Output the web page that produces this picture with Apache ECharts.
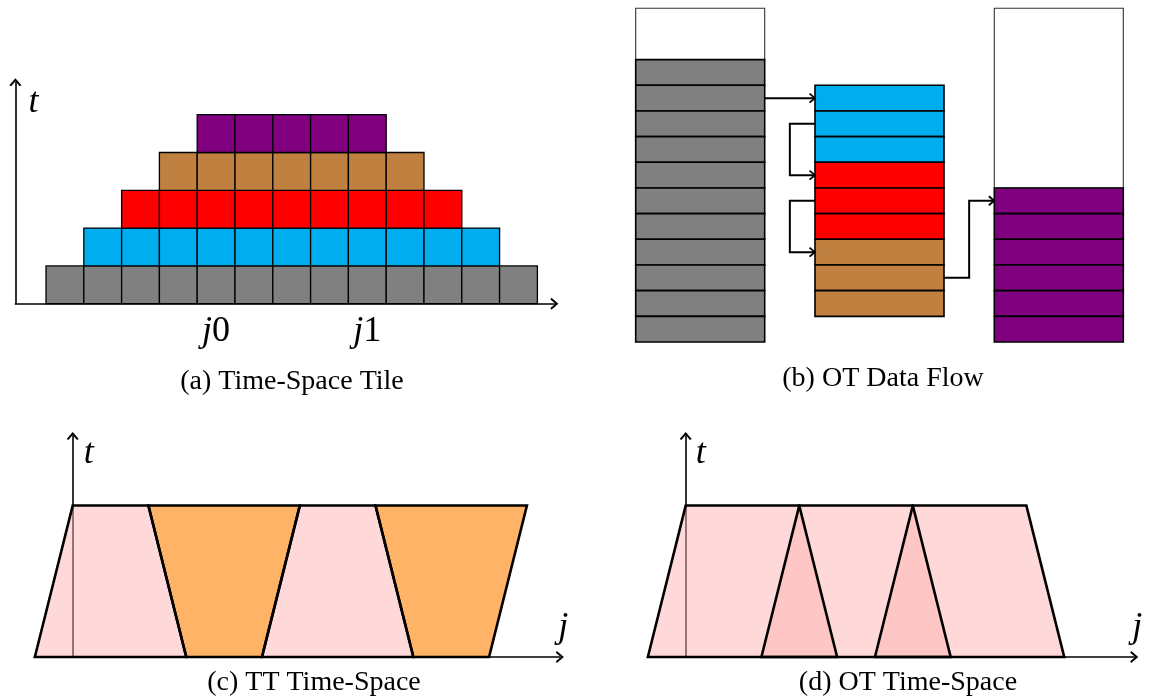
<!DOCTYPE html>
<html><head><meta charset="utf-8">
<script src="https://cdn.jsdelivr.net/npm/echarts@6/dist/echarts.min.js"></script>
<style>html,body{margin:0;padding:0;background:#fff}#c{width:1149px;height:698px}</style>
</head><body><div id="c"></div>
<script>
// ---------- DATA ----------
// (a) Time-Space Tile : one row of unit cells per time step
const tileRowStart = [0, 1, 2, 3, 4];
const tileRowCount = [13, 11, 9, 7, 5];
const tileRowColor = ['gray', 'cyan', 'red', 'brown', 'purple'];
const tileLabelValues = [4.5, 8.5];
const tileLabelNames = ['j0', 'j1'];

// (b) OT Data Flow : column start positions and blocks [column, firstRow, rows, cells, colour]
const flowColumnX = [0, 1.39, 2.78];
const flowBlocks = [
  [0, 0, 2, 1, 'white'], [0, 2, 11, 11, 'gray'],
  [1, 3, 3, 3, 'cyan'], [1, 6, 3, 3, 'red'], [1, 9, 3, 3, 'brown'],
  [2, 0, 7, 1, 'white'], [2, 7, 6, 6, 'purple']
];
// arrows as polylines [column-unit x, row]
const flowArrows = [
  [[1, 3.5], [1.39, 3.5]],
  [[1.39, 4.5], [1.195, 4.5], [1.195, 6.5], [1.39, 6.5]],
  [[1.39, 7.5], [1.195, 7.5], [1.195, 9.5], [1.39, 9.5]],
  [[2.39, 10.5], [2.585, 10.5], [2.585, 7.5], [2.78, 7.5]]
];

// (c) TT Time-Space : trapezoids, top/bottom spans in j-units
const tsHeight = 4;
const ttTop = [[0, 2], [2, 6], [6, 8], [8, 12]];
const ttBottom = [[-1, 3], [3, 5], [5, 9], [9, 11]];
const ttKind = ['pink', 'orange', 'pink', 'orange'];

// (d) OT Time-Space : overlapping trapezoids
const otTop = [[0, 3], [3, 6], [6, 9]];
const otBottom = [[-1, 4], [2, 7], [5, 10]];
const otKind = ['pink', 'pink', 'pink'];

const captions = ['(a) Time-Space Tile', '(b) OT Data Flow', '(c) TT Time-Space', '(d) OT Time-Space'];

// ---------- STYLE ----------
const palette = {
  gray: '#808080', cyan: '#00AEEF', red: '#FF0000', brown: '#BF8040', purple: '#800080',
  white: '#FFFFFF', pink: 'rgba(255,179,179,0.5)', orange: '#FFB366'
};
const SERIF = '"Liberation Serif", "DejaVu Serif", serif';
const arrowPath = 'path://M0,7 L6,0 L12,7 L10.3,8 L6,3 L1.7,8 Z';

// ---------- BUILD ----------
const tileCells = [];
tileRowStart.forEach((s, r) => {
  for (let k = 0; k < tileRowCount[r]; k++) tileCells.push([s + k, r, r]);
});

function axisLineArrow() {
  return { show: true, onZero: true, symbol: ['none', arrowPath], symbolSize: [12, 8],
    lineStyle: { color: '#000', width: 1.6 } };
}
function baseX(gi, min, max) {
  return { type: 'value', gridIndex: gi, min: min, max: max,
    splitLine: { show: false }, axisTick: { show: false }, axisLabel: { show: false },
    axisLine: axisLineArrow() };
}
function baseY(gi, min, max) {
  return { type: 'value', gridIndex: gi, min: min, max: max,
    splitLine: { show: false }, axisTick: { show: false }, axisLabel: { show: false },
    axisLine: axisLineArrow() };
}
const mathName = { fontFamily: SERIF, fontStyle: 'italic', fontSize: 36, color: '#000' };

const xA = baseX(0, -0.81, 13.45);
xA.axisLabel = {
  show: true, customValues: tileLabelValues, margin: 10,
  formatter: function (v) {
    const i = tileLabelValues.indexOf(v);
    const s = i >= 0 ? tileLabelNames[i] : '';
    return '{i|' + s.charAt(0) + '}{n|' + s.slice(1) + '}';
  },
  rich: {
    i: { fontFamily: SERIF, fontStyle: 'italic', fontSize: 36, color: '#000' },
    n: { fontFamily: SERIF, fontSize: 36, color: '#000' }
  }
};
const yA = baseY(0, 0, 5.86);
yA.axisLine.onZero = false;
yA.name = 't'; yA.nameLocation = 'end'; yA.nameGap = -20;
yA.nameTextStyle = Object.assign({ align: 'left', verticalAlign: 'middle', padding: [0, 0, 0, 13] }, mathName);

const xB = { type: 'value', gridIndex: 1, min: 0, max: 3.78, show: false };
const yB = { type: 'value', gridIndex: 1, min: 0, max: 13, inverse: true, show: false };

const xC = baseX(2, -1, 12.87);
xC.name = 'j'; xC.nameLocation = 'end'; xC.nameGap = 3.5;
xC.nameTextStyle = Object.assign({ align: 'center', verticalAlign: 'bottom', padding: [0, 0, 11, 0] }, mathName);
const yC = baseY(2, 0, 5.84);
yC.name = 't'; yC.nameLocation = 'end'; yC.nameGap = -18;
yC.nameTextStyle = Object.assign({ align: 'left', verticalAlign: 'middle', padding: [0, 0, 0, 11] }, mathName);

const xD = baseX(3, -1, 11.85);
xD.name = 'j'; xD.nameLocation = 'end'; xD.nameGap = 3;
xD.nameTextStyle = Object.assign({ align: 'center', verticalAlign: 'bottom', padding: [0, 0, 11, 0] }, mathName);
const yD = baseY(3, 0, 5.84);
yD.name = 't'; yD.nameLocation = 'end'; yD.nameGap = -18;
yD.nameTextStyle = Object.assign({ align: 'left', verticalAlign: 'middle', padding: [0, 0, 0, 10] }, mathName);

function trapSeries(axisIdx, tops, bottoms, kinds, mode) {
  return {
    type: 'custom', xAxisIndex: axisIdx, yAxisIndex: axisIdx, z: mode === 'fill' ? 2 : 3,
    silent: true, animation: false,
    data: tops.map(function (t) { return [t[0], tsHeight]; }),
    renderItem: function (params, api) {
      const i = params.dataIndex;
      const pts = [
        api.coord([bottoms[i][0], 0]), api.coord([tops[i][0], tsHeight]),
        api.coord([tops[i][1], tsHeight]), api.coord([bottoms[i][1], 0])
      ];
      return {
        type: 'polygon', shape: { points: pts },
        style: mode === 'fill'
          ? { fill: palette[kinds[i]], stroke: null, lineWidth: 0 }
          : { fill: 'none', stroke: '#000', lineWidth: 2.6, lineJoin: 'miter' }
      };
    }
  };
}

const option = {
  animation: false,
  backgroundColor: '#fff',
  title: captions.map(function (c, i) {
    const pos = [[292, 368], [883, 365], [314, 669], [908, 669]][i];
    return { text: c, left: pos[0], top: pos[1], textAlign: 'center', padding: 0,
      textStyle: { fontFamily: SERIF, fontWeight: 'normal', fontSize: 28, color: '#000' } };
  }),
  grid: [
    { left: 15.4, top: 82.2, width: 539, height: 221.5, containLabel: false, outerBoundsMode: 'none' },
    { left: 635.7, top: 8.3, width: 487.6, height: 333.7, containLabel: false, outerBoundsMode: 'none' },
    { left: 34.85, top: 435.9, width: 525.0, height: 221.1, containLabel: false, outerBoundsMode: 'none' },
    { left: 647.85, top: 435.9, width: 486.4, height: 221.1, containLabel: false, outerBoundsMode: 'none' }
  ],
  xAxis: [xA, xB, xC, xD],
  yAxis: [yA, yB, yC, yD],
  series: [
    {
      type: 'custom', xAxisIndex: 0, yAxisIndex: 0, silent: true, animation: false,
      data: tileCells,
      renderItem: function (params, api) {
        const c = tileCells[params.dataIndex];
        const p0 = api.coord([c[0], c[1] + 1]);
        const p1 = api.coord([c[0] + 1, c[1]]);
        return { type: 'rect',
          shape: { x: p0[0], y: p0[1], width: p1[0] - p0[0], height: p1[1] - p0[1] },
          style: { fill: palette[tileRowColor[c[2]]], stroke: '#000', lineWidth: 1.3 } };
      }
    },
    {
      type: 'custom', xAxisIndex: 1, yAxisIndex: 1, silent: true, animation: false,
      data: flowBlocks.map(function (b) { return [flowColumnX[b[0]], b[1]]; }),
      renderItem: function (params, api) {
        const b = flowBlocks[params.dataIndex];
        const h = b[2] / b[3];
        const children = [];
        for (let k = 0; k < b[3]; k++) {
          const p0 = api.coord([flowColumnX[b[0]], b[1] + k * h]);
          const p1 = api.coord([flowColumnX[b[0]] + 1, b[1] + (k + 1) * h]);
          children.push({ type: 'rect',
            shape: { x: p0[0], y: p0[1], width: p1[0] - p0[0], height: p1[1] - p0[1] },
            style: { fill: palette[b[4]], stroke: b[4] === 'white' ? '#333' : '#000',
              lineWidth: b[4] === 'white' ? 1.1 : 1.6 } });
        }
        return { type: 'group', children: children };
      }
    },
    {
      type: 'custom', xAxisIndex: 1, yAxisIndex: 1, silent: true, animation: false, z: 4,
      data: flowArrows.map(function (a) { return a[0]; }),
      renderItem: function (params, api) {
        const pts = flowArrows[params.dataIndex].map(function (p) { return api.coord(p); });
        const n = pts.length;
        const tip = pts[n - 1], prev = pts[n - 2];
        let dx = tip[0] - prev[0], dy = tip[1] - prev[1];
        const len = Math.sqrt(dx * dx + dy * dy) || 1;
        dx /= len; dy /= len;
        const bx = tip[0] - dx * 5.5, by = tip[1] - dy * 5.5;
        const nx = -dy * 4.5, ny = dx * 4.5;
        return { type: 'group', children: [
          { type: 'polyline', shape: { points: pts },
            style: { fill: 'none', stroke: '#000', lineWidth: 2 } },
          { type: 'polyline', shape: { points: [[bx + nx, by + ny], tip, [bx - nx, by - ny]] },
            style: { fill: 'none', stroke: '#000', lineWidth: 1.8 } }
        ] };
      }
    },
    trapSeries(2, ttTop, ttBottom, ttKind, 'fill'),
    trapSeries(2, ttTop, ttBottom, ttKind, 'stroke'),
    trapSeries(3, otTop, otBottom, otKind, 'fill'),
    trapSeries(3, otTop, otBottom, otKind, 'stroke')
  ]
};

const chart = echarts.init(document.getElementById('c'), null, { renderer: 'canvas' });
chart.setOption(option);
</script>
</body></html>
